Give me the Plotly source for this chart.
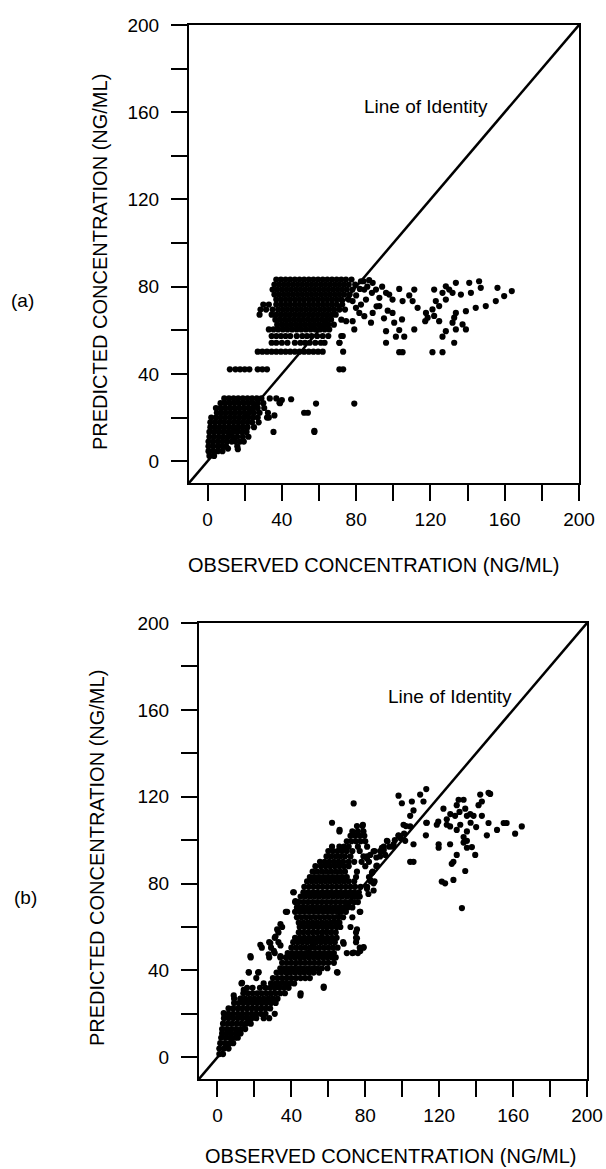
import plotly.graph_objects as go

# ---------------- Panel (a) data ----------------
# dense rows: predicted level -> observed values
a_row_y = [83.3, 81.0, 78.7, 76.4, 74.1, 71.8, 69.5, 67.2, 64.9, 62.6,
           60.4, 57.4, 54.3, 50.2, 42.1,
           28.8, 26.6, 24.4, 22.2, 20.0, 17.8, 15.6, 13.4, 11.2, 9.0, 6.8, 4.6, 2.4]
a_row_x = [
    [37, 39.5, 42, 44.5, 47, 49.5, 52, 54.5, 57, 59.5, 62, 64.5, 67, 69.5, 72, 74.5, 77.5],
    [36, 38.5, 41, 43.5, 46, 48.5, 51, 53.5, 56, 58.5, 61, 63.5, 66, 68.5, 71, 73.5, 76, 79.5],
    [35, 37.5, 40, 42.5, 45, 47.5, 50, 52.5, 55, 57.5, 60, 62.5, 65, 67.5, 70, 72.5, 75, 78],
    [36, 38.5, 41, 43.5, 46, 48.5, 51, 53.5, 56, 58.5, 61, 63.5, 66, 68.5, 71, 73.5, 76.5],
    [37, 39.5, 42, 44.5, 47, 49.5, 52, 54.5, 57, 59.5, 62, 64.5, 67, 69.5, 72, 76],
    [30, 33, 37, 39.5, 42, 44.5, 47, 49.5, 52, 54.5, 57, 59.5, 62, 64.5, 67, 69.5, 72.5],
    [28.5, 31.5, 35, 38, 40.5, 43, 45.5, 48, 50.5, 53, 55.5, 58, 60.5, 63, 65.5, 68, 71, 74],
    [28, 34.5, 37, 39.5, 42, 44.5, 47, 49.5, 52, 54.5, 57, 59.5, 62, 64.5, 67, 69],
    [36.5, 39, 41.5, 44, 46.5, 49, 51.5, 54, 56.5, 59, 61.5, 64, 66.5, 72],
    [37.5, 40, 42.5, 45, 47.5, 50, 52.5, 55, 57.5, 60, 62.5, 65, 68],
    [33, 35.5, 38, 40.5, 43, 45.5, 48, 50.5, 53, 55.5, 58, 60.5, 63, 65.5],
    [34.5, 37, 39.5, 42, 44.5, 48, 51, 53.5, 56, 59, 62, 65, 72],
    [34.5, 37, 40, 43, 47, 50, 52.5, 55, 58, 61, 63, 71],
    [27, 29.5, 32, 34.5, 37, 39.5, 42, 44.5, 47, 49.5, 52, 54.5, 57, 59.5, 62, 73],
    [12, 15, 17.5, 20, 22.5, 27, 29.5, 32, 71, 73],
    [9, 11.5, 14, 16.5, 19, 21.5, 24, 26.5, 29, 33.5, 37],
    [7, 9.5, 12, 14.5, 17, 19.5, 22, 24.5, 27, 30, 39],
    [4.5, 7, 9.5, 12, 14.5, 17, 19.5, 22, 24.5, 27, 30.5],
    [5, 7.5, 10, 12.5, 15, 17.5, 20, 22.5, 25, 28, 32.5, 52, 54],
    [2, 4.5, 7, 9.5, 12, 14.5, 17, 19.5, 22, 24.5, 27, 32],
    [1.5, 4, 6.5, 9, 11.5, 14, 16.5, 19, 21.5, 24, 27.5],
    [1.5, 4, 6.5, 9, 11.5, 14, 16.5, 19, 21.5, 25],
    [1, 3.5, 6, 8.5, 11, 13.5, 16, 18.5, 21, 35.5, 57.5],
    [1, 3.5, 6, 8.5, 11, 13.5, 16, 19, 22],
    [0.5, 3, 5.5, 8, 10.5, 13, 15, 17.5, 19.5],
    [0.5, 3, 5.5, 8, 10, 16],
    [0.5, 3, 5.5, 8],
    [1, 3.5],
]
a_sc_x = [82.6, 84.4, 88.9, 88.5, 90.7, 92.5, 96.1, 97.8, 99.6, 103.2, 105, 108.6, 111.3, 110.4, 113.1,
          99.6, 100.5, 104.7, 96.1, 103.2, 101.4, 105.9, 96.1, 103.2, 105, 111.3, 117.6, 118.5, 117.2,
          121.1, 122.9, 124.7, 122, 126.5, 128.3, 130.1, 131.9, 133.7, 136.4, 140.9, 141.8, 146.2,
          147.1, 156.1, 159.7, 163.8, 155.2, 149.8, 144.4, 139.1, 133.7, 132.8, 131.9, 124.7, 128.3,
          126.5, 133.7, 139.1, 132.8, 121.1, 126.5, 128.3, 122, 137.3,
          78.1, 79.9, 81.7, 84.4, 88, 88.9, 78.1, 74.6, 79, 72.8, 71, 82.6, 85.3, 92.5, 86, 80, 82,
          84, 87, 94, 91, 95, 97,
          45, 58.4, 79, 57.5, 40, 36, 33, 38.7, 11, 16.3]
a_sc_y = [82.5, 78.7, 81.8, 77.2, 78.7, 74.9, 77.2, 76.4, 74.1, 79, 73.4, 76, 78.7, 73.4, 70.3,
          68, 63.5, 65, 59.6, 60.1, 57.1, 57.1, 54.3, 50, 50, 60.4, 68, 65.8, 64.2,
          69.6, 73.4, 71.1, 78.7, 77.2, 80.2, 78.7, 77.2, 81.8, 76.4, 81.8, 77.2, 82.5,
          79.5, 79.5, 75.7, 78, 73.4, 71.1, 70.3, 68.8, 68, 65.8, 63.5, 64.2, 59.6,
          57.1, 60.4, 60.4, 54.3, 50, 50, 74.1, 66.6, 62.7,
          73.4, 70.3, 68, 66.5, 63.5, 68, 64.2, 64.2, 60.4, 57.4, 54.3, 71.8, 74.1, 71.1, 80, 76, 79,
          82.5, 83, 80, 71, 65.5, 69,
          28.4, 26.4, 26.4, 13.9, 28, 21, 20, 26.8, 5.8, 5.5]

# ---------------- Panel (b) data ----------------
b_row_y = [1.5, 4, 6.5, 9, 11, 13, 15.5, 18, 20, 22.5, 25, 27, 29.5, 32, 34, 36.5, 39, 41, 43.5,
           46, 48, 50.5, 53, 55, 57.5, 60, 62, 64.5, 67, 69, 71.5, 74, 76, 78.5, 81, 83, 85.5,
           88, 90, 92.5, 95, 97, 99.5, 102, 104, 106.5, 108]
b_row_x = [
    [1, 3],
    [1, 3.5, 6],
    [1.5, 4, 6.5, 8.5],
    [2, 4.5, 7, 9.5, 11],
    [2.5, 5, 7.5, 10, 12.5],
    [2.5, 5, 7.5, 10, 12.5, 15],
    [3, 5.5, 8, 10.5, 13, 15.5, 18],
    [3.5, 6, 8.5, 11, 13.5, 16, 18.5, 21, 25, 28],
    [3.5, 6, 8.5, 11, 13.5, 16, 18.5, 21, 23.5, 26, 31],
    [6, 8.5, 11, 13.5, 16, 18.5, 21, 23.5, 26, 28.5],
    [9, 11.5, 14, 16.5, 19, 21.5, 24, 26.5, 29, 31.5],
    [9, 12.5, 15, 17.5, 20, 22.5, 25, 27.5, 30, 32.5],
    [14, 16.5, 19, 21.5, 24, 26.5, 29, 31.5, 34, 36.5, 45],
    [16, 19, 23, 26, 28.5, 31, 33.5, 36, 38.5, 57.5],
    [13, 25, 29, 31.5, 34, 36.5, 39, 41.5],
    [21, 30, 32.5, 35, 37.5, 40, 42.5, 45, 47.5, 50],
    [17, 22, 32, 34.5, 37, 39.5, 42, 44.5, 47, 49.5, 52, 55, 65],
    [34, 36.5, 39, 41.5, 44, 46.5, 49, 51.5, 54, 56.5, 59.5],
    [35, 37.5, 40, 42.5, 45, 47.5, 50, 52.5, 55, 57.5, 60, 63],
    [18, 28, 34, 37, 39.5, 42, 44.5, 47, 49.5, 52, 54.5, 57, 59.5, 62, 64],
    [31, 38, 40.5, 43, 45.5, 48, 50.5, 53, 55.5, 58, 60.5, 63, 70, 73, 76],
    [24, 29, 40, 42.5, 45, 47.5, 50, 52.5, 55, 57.5, 60, 62.5, 65, 77, 79],
    [28, 33, 41, 43.5, 46, 48.5, 51, 53.5, 56, 58.5, 61, 63.5, 68, 75],
    [31, 42, 44.5, 47, 49.5, 52, 54.5, 57, 59.5, 62, 64.5, 75],
    [33, 44, 46.5, 49, 51.5, 54, 56.5, 59, 61.5, 64, 75],
    [35, 44.5, 47, 49.5, 52, 54.5, 57, 59.5, 62, 64.5, 66.5, 72],
    [44, 46.5, 49, 51.5, 54, 56.5, 59, 61.5, 64, 66],
    [43, 45.5, 48, 50.5, 53, 55.5, 58, 60.5, 63, 65.5, 68, 73],
    [37, 42, 44.5, 47, 49.5, 52, 54.5, 57, 59.5, 62, 64.5, 67, 69.5, 77],
    [43, 45.5, 48, 50.5, 53, 55.5, 58, 60.5, 63, 65.5, 68, 70.5, 73],
    [42, 44, 46.5, 49, 51.5, 54, 56.5, 59, 61.5, 64, 66.5, 69, 71.5, 74, 76],
    [45, 47.5, 50, 52.5, 55, 57.5, 60, 62.5, 65, 67.5, 70, 72.5, 75, 77],
    [41, 46.5, 49, 51.5, 54, 56.5, 59, 61.5, 64, 66.5, 69, 71.5, 74, 76.5],
    [47, 49.5, 52, 54.5, 57, 59.5, 62, 64.5, 67, 69.5, 72, 74.5, 77.5, 81],
    [48.5, 51, 53.5, 56, 58.5, 61, 63.5, 66, 68.5, 71, 74, 83, 85],
    [50, 52.5, 55, 57.5, 60, 62.5, 65, 67.5, 70, 75, 82],
    [51.5, 54, 56.5, 59, 61.5, 64, 66.5, 69, 75.5, 84],
    [53, 56, 58.5, 61, 63.5, 66, 68.5, 71, 80, 86],
    [55.5, 58, 60.5, 63, 65.5, 68, 71, 74, 78, 82],
    [59, 61.5, 64, 66.5, 69, 72, 79, 81, 88],
    [60, 62.5, 65, 67.5, 70, 73, 77, 85, 89],
    [62, 66, 68.5, 71, 76, 81, 90, 95],
    [70, 72.5, 75, 77.5, 80, 92],
    [72, 74.5, 77, 79.5, 98],
    [66, 73, 76, 79],
    [75.5, 78.5, 102],
    [62, 113],
]
b_sc_x = [98, 99.8, 105.2, 106.1, 109.7, 113, 111.5, 104.3, 100.7, 104.3, 98, 95.3, 91.7, 89, 90.8,
          101.6, 106.1, 113.3, 112.8, 104.3, 106.1,
          118.7, 119.5, 122.3, 124.1, 124.1, 125.9, 129.5, 130.5, 133.2, 134.1, 135, 136.8, 138.6,
          141.3, 143.1, 142.2, 147.6, 146.7, 143.1, 128.6, 131.4, 129.5, 133.2, 133.2, 135, 119.7,
          125.9, 119.7, 135, 137.7, 139.5, 129.5, 127.7, 126.8, 134.1, 121.4, 123.2, 127.7, 132.3,
          145.8, 146.7, 151.3, 154.9, 156.5, 161.1, 164.7, 135, 137, 126, 131, 140,
          73.7, 66.1, 78.7, 86, 88, 90, 93, 96, 99, 101, 84.5, 82.7, 80.9, 86.3, 83.6, 82.7, 84.5,
          84.5, 80.9, 81.7, 77.3, 79.1, 77.3, 73.7, 75.5, 75.5, 68.3, 64.7, 57.5, 44.9,
          41.3, 42.2, 37.7, 34.1, 32.3, 31.4, 34.1, 30.5, 23.2, 28.6, 27.7, 34.1, 17.8, 22.3,
          16.9, 13.3, 14.2, 8.8, 12.4, 3.4]
b_sc_y = [120.5, 117, 117.8, 113.7, 121, 123.5, 117.8, 111.2, 107.1, 106.3, 102.2, 98.1, 99.7, 96.5, 93.2,
          99.7, 98.1, 108, 102.2, 90, 90,
          107.1, 108.5, 114.5, 109.6, 107.1, 106.3, 116.1, 118.6, 118.6, 114.5, 111.2, 112, 111.2,
          116.1, 117.8, 121, 121.3, 121.8, 111.2, 111.2, 107.1, 104.7, 101.4, 98.9, 99.7, 98.1,
          98.1, 96.5, 96.5, 96.8, 93.2, 93.2, 90, 89.1, 85.8, 80.9, 80.1, 81.7, 68.7,
          102.2, 107.9, 104.7, 107.9, 107.9, 103, 106.3, 104, 108, 112, 113, 106,
          116.9, 104.7, 107.1, 92, 95, 95.5, 97, 100, 101, 103, 94.8, 93.2, 91.6, 88.3, 85, 81.7, 80.1,
          76.8, 77.6, 75.2, 67, 50.7, 49, 48.2, 58.9, 54.8, 52.3, 39.2, 32.6, 28.5,
          76, 71.9, 67, 61.3, 58.9, 55.6, 51.5, 49, 51.8, 52.6, 47.4, 46.6, 46.6, 39.2,
          39.2, 34.3, 31, 28.5, 26.9, 20.4]

tick_vals = [0, 20, 40, 60, 80, 100, 120, 140, 160, 180, 200]
tick_text = ["0", "", "40", "", "80", "", "120", "", "160", "", "200"]
x_title = "OBSERVED CONCENTRATION (NG/ML)"
y_title = "PREDICTED CONCENTRATION (NG/ML)"
identity_label = "Line of Identity"
panel_labels = ["(a)", "(b)"]


def flatten(rows_y, rows_x, sc_x, sc_y):
    xs, ys = [], []
    for yv, xr in zip(rows_y, rows_x):
        for xv in xr:
            xs.append(xv)
            ys.append(yv)
    return xs + list(sc_x), ys + list(sc_y)


ax, ay = flatten(a_row_y, a_row_x, a_sc_x, a_sc_y)
bx, by = flatten(b_row_y, b_row_x, b_sc_x, b_sc_y)

W, H = 606, 1169
FONT = "Liberation Sans, Arial, Helvetica, sans-serif"

fig = go.Figure()
marker = dict(color="black", size=6.2, line=dict(width=0))
fig.add_trace(go.Scatter(x=ax, y=ay, mode="markers", marker=marker, xaxis="x", yaxis="y", showlegend=False))
fig.add_trace(go.Scatter(x=[-10, 200], y=[-10, 200], mode="lines", line=dict(color="black", width=2.5),
                         xaxis="x", yaxis="y", showlegend=False))
fig.add_trace(go.Scatter(x=bx, y=by, mode="markers", marker=marker, xaxis="x2", yaxis="y2", showlegend=False))
fig.add_trace(go.Scatter(x=[-10, 200], y=[-10, 200], mode="lines", line=dict(color="black", width=2.5),
                         xaxis="x2", yaxis="y2", showlegend=False))

axis_common = dict(range=[-10, 200], showline=True, linecolor="black", linewidth=2, mirror=True,
                   ticks="outside", ticklen=16, tickwidth=2, tickcolor="black",
                   tickvals=tick_vals, ticktext=tick_text, showgrid=False, zeroline=False,
                   automargin=False,
                   tickfont=dict(family=FONT, size=19, color="black"))

fig.update_layout(
    width=W, height=H, margin=dict(l=0, r=0, t=0, b=0, autoexpand=False),
    paper_bgcolor="white", plot_bgcolor="white",
    xaxis=dict(domain=[189 / W, 579 / W], anchor="y", ticklabelstandoff=2, **axis_common),
    yaxis=dict(domain=[1 - 483 / H, 1 - 25 / H], anchor="x", ticklabelstandoff=8, **axis_common),
    xaxis2=dict(domain=[199 / W, 587 / W], anchor="y2", ticklabelstandoff=2, **axis_common),
    yaxis2=dict(domain=[1 - 1079 / H, 1 - 623 / H], anchor="x2", ticklabelstandoff=8, **axis_common),
)

ann_font = dict(family=FONT, size=19, color="black")
annotations = [
    dict(text=x_title, xref="paper", yref="paper", x=374 / W, y=1 - 565 / H, showarrow=False,
         xanchor="center", yanchor="middle", font=dict(family=FONT, size=20, color="black")),
    dict(text=x_title, xref="paper", yref="paper", x=391 / W, y=1 - 1156 / H, showarrow=False,
         xanchor="center", yanchor="middle", font=dict(family=FONT, size=20, color="black")),
    dict(text=y_title, xref="paper", yref="paper", x=100 / W, y=1 - 262 / H, showarrow=False,
         textangle=-90, xanchor="center", yanchor="middle", font=dict(family=FONT, size=20, color="black")),
    dict(text=y_title, xref="paper", yref="paper", x=97 / W, y=1 - 858 / H, showarrow=False,
         textangle=-90, xanchor="center", yanchor="middle", font=dict(family=FONT, size=20, color="black")),
    dict(text=panel_labels[0], xref="paper", yref="paper", x=22 / W, y=1 - 300 / H, showarrow=False,
         xanchor="center", yanchor="middle", font=ann_font),
    dict(text=panel_labels[1], xref="paper", yref="paper", x=25 / W, y=1 - 897 / H, showarrow=False,
         xanchor="center", yanchor="middle", font=ann_font),
    dict(text=identity_label, xref="x", yref="y", x=117.5, y=162.5, showarrow=False,
         xanchor="center", yanchor="middle", font=ann_font),
    dict(text=identity_label, xref="x2", yref="y2", x=126, y=166, showarrow=False,
         xanchor="center", yanchor="middle", font=ann_font),
]
fig.update_layout(annotations=annotations)

fig.write_html(
    "out.html",
    config={"displayModeBar": False},
    post_script="document.body.style.margin='0';document.body.style.overflow='hidden';"
                "document.documentElement.style.overflow='hidden';",
)
